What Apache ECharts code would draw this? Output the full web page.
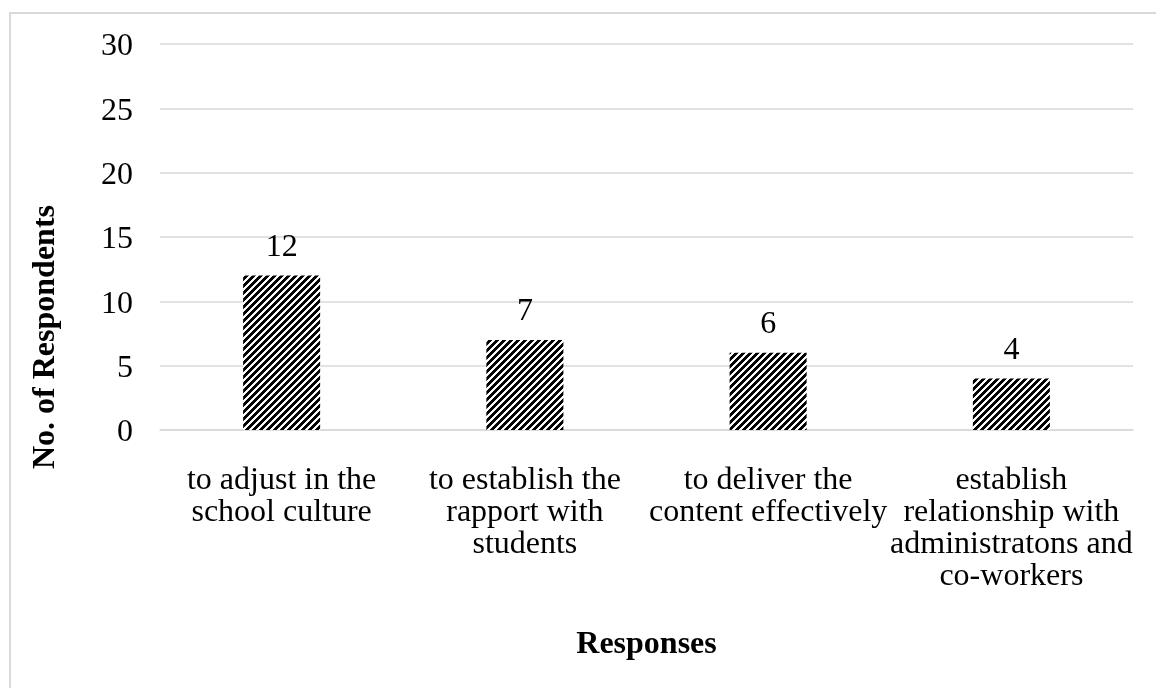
<!DOCTYPE html>
<html>
<head>
<meta charset="utf-8">
<script src="https://cdn.jsdelivr.net/npm/echarts@6/dist/echarts.min.js"></script>
<style>
html,body{margin:0;padding:0;background:#fff;}
#chart{width:1156px;height:688px;}
</style>
</head>
<body>
<div id="chart"></div>
<script>
const categories = [
  "to adjust in the\nschool culture",
  "to establish the\nrapport with\nstudents",
  "to deliver the\ncontent effectively",
  "establish\nrelationship with\nadministratons and\nco-workers"
];
const values = [12, 7, 6, 4];
const yTicks = [0, 5, 10, 15, 20, 25, 30];
const xTitle = "Responses";
const yTitle = "No. of Respondents";

const FONT = '"Liberation Serif", "Times New Roman", serif';

function hatch() {
  const p = 7;
  const c = document.createElement('canvas');
  c.width = p; c.height = p;
  const ctx = c.getContext('2d');
  const img = ctx.createImageData(p, p);
  for (let y = 0; y < p; y++) {
    for (let x = 0; x < p; x++) {
      const v = 0.5 + 0.5 * Math.cos(2 * Math.PI * (x + y) / p);
      let g = Math.max(0, Math.min(1, (v - 0.6) * 2.2 + 0.5));
      const val = Math.round(g * 255);
      const i = (y * p + x) * 4;
      img.data[i] = val; img.data[i+1] = val; img.data[i+2] = val; img.data[i+3] = 255;
    }
  }
  ctx.putImageData(img, 0, 0);
  return c;
}

const chart = echarts.init(document.getElementById('chart'), null, {renderer: 'canvas'});
chart.setOption({
  backgroundColor: '#ffffff',
  animation: false,
  grid: {left: 160, right: 23, top: 44, bottom: 258, containLabel: false},
  graphic: [
    {type: 'rect', shape: {x: 10, y: 13, width: 1170, height: 700},
     style: {fill: 'none', stroke: '#d9d9d9', lineWidth: 2}, silent: true},
    {type: 'text', x: 46, y: 337, rotation: Math.PI / 2,
     style: {text: yTitle, font: 'bold 32px ' + FONT, fill: '#000', align: 'center', verticalAlign: 'middle'}}
  ],
  xAxis: {
    type: 'category',
    data: categories,
    name: xTitle,
    nameLocation: 'middle',
    nameGap: 199,
    nameTextStyle: {fontFamily: FONT, fontSize: 32, fontWeight: 'bold', color: '#000'},
    axisLine: {show: true, lineStyle: {color: '#d9d9d9', width: 1.5}},
    axisTick: {show: false},
    axisLabel: {interval: 0, fontFamily: FONT, fontSize: 32, color: '#000', lineHeight: 32, margin: 35}
  },
  yAxis: {
    type: 'value',
    min: 0, max: 30, interval: 5,
    axisLine: {show: false},
    axisTick: {show: false},
    splitLine: {lineStyle: {color: '#d9d9d9', width: 1.5}},
    axisLabel: {fontFamily: FONT, fontSize: 32, color: '#000', margin: 27,
      rich: {t: {fontFamily: FONT, fontSize: 32, color: '#000', padding: [6, 0, 0, 0]}},
      formatter: function (v) { return yTicks.indexOf(v) >= 0 ? '{t|' + v + '}' : ''; }}
  },
  series: [{
    type: 'bar',
    data: values,
    barWidth: 77,
    itemStyle: {color: {image: hatch(), repeat: 'repeat'}},
    label: {show: true, position: 'top', distance: 12, fontFamily: FONT, fontSize: 32, color: '#000'}
  }]
});
</script>
</body>
</html>
